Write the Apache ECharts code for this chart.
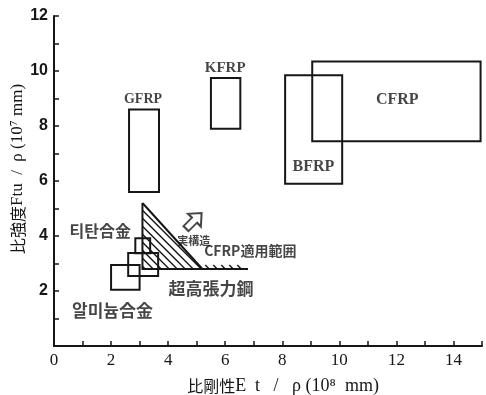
<!DOCTYPE html>
<html><head><meta charset="utf-8">
<script src="https://cdn.jsdelivr.net/npm/echarts@6/dist/echarts.min.js"></script>
<style>html,body{margin:0;padding:0;background:#fff}#c{width:486px;height:395px}</style>
</head><body><div id="c"></div>
<script>
// ---- data ----
const xTicks = [0, 2, 4, 6, 8, 10, 12, 14];
const yTicks = [2, 4, 6, 8, 10, 12];
// material regions (specific stiffness range x, specific strength range y)
const boxNames = ['GFRP', 'KFRP', 'BFRP', 'CFRP', 'Ti-a', 'Ti-b', 'Al'];
const boxXmin = [2.63, 5.5, 8.1, 9.05, 2.85, 2.6, 2.0];
const boxXmax = [3.68, 6.53, 10.1, 14.95, 3.37, 3.65, 3.0];
const boxYmin = [5.6, 7.9, 5.9, 7.45, 3.37, 2.55, 2.05];
const boxYmax = [8.6, 9.75, 9.85, 10.35, 3.92, 3.38, 2.95];
// hatched applicable CFRP region (vertex x, y) and base-line end
const hatchX = [3.1, 3.1, 5.2];
const hatchY = [5.2, 2.8, 2.8];
const baseEndX = 6.8;
// annotations
const annText = ['GFRP', 'KFRP', 'CFRP', 'BFRP', '티탄合金', '알미늄合金', '実構造', 'CFRP適用範囲', '超高張力鋼'];
const annX = [3.12, 6.0, 12.03, 9.09, 1.62, 2.05, 4.9, 6.88, 5.5];
const annY = [8.98, 10.1, 8.95, 6.5, 4.2, 1.3, 3.82, 3.45, 2.1];
const arrowX = [4.9];
const arrowY = [4.55];

const annStyle = {
  'GFRP': {fontFamily: 'Liberation Serif', fontWeight: 'bold', fontSize: 14},
  'KFRP': {fontFamily: 'Liberation Serif', fontWeight: 'bold', fontSize: 15},
  'CFRP': {fontFamily: 'Liberation Serif', fontWeight: 'bold', fontSize: 16},
  'BFRP': {fontFamily: 'Liberation Serif', fontWeight: 'bold', fontSize: 16},
  '티탄合金': {fontFamily: 'Noto Sans CJK KR', fontWeight: 'bold', fontSize: 16},
  '알미늄合金': {fontFamily: 'Noto Sans CJK KR', fontWeight: 'bold', fontSize: 17},
  '実構造': {fontFamily: 'Noto Sans CJK JP', fontWeight: 'bold', fontSize: 11},
  'CFRP適用範囲': {fontFamily: 'Noto Sans CJK JP', fontWeight: 'bold', fontSize: 14},
  '超高張力鋼': {fontFamily: 'Noto Sans CJK JP', fontWeight: 'bold', fontSize: 17}
};

const INK = '#161616';
const chart = echarts.init(document.getElementById('c'), null, {renderer: 'canvas'});

function clipLines(poly, step) {
  // hatch lines of screen direction (1,1) clipped to polygon
  const cs = poly.map(p => p[1] - p[0]);
  const cmin = Math.min(...cs), cmax = Math.max(...cs);
  const out = [];
  for (let c = cmin + step * 0.6; c < cmax; c += step) {
    const xs = [];
    for (let i = 0; i < poly.length; i++) {
      const P = poly[i], Q = poly[(i + 1) % poly.length];
      const fp = P[1] - P[0] - c, fq = Q[1] - Q[0] - c;
      if ((fp < 0 && fq >= 0) || (fp >= 0 && fq < 0)) {
        const t = fp / (fp - fq);
        xs.push(P[0] + t * (Q[0] - P[0]));
      }
    }
    xs.sort((a, b) => a - b);
    for (let k = 0; k + 1 < xs.length; k += 2) {
      out.push([[xs[k], xs[k] + c], [xs[k + 1], xs[k + 1] + c]]);
    }
  }
  return out;
}

const boxData = boxNames.map((n, i) => ({name: n, value: [boxXmin[i], boxXmax[i], boxYmin[i], boxYmax[i]]}));

const option = {
  animation: false,
  backgroundColor: '#fff',
  grid: {left: 54, right: 4, top: 16, bottom: 49, containLabel: false, outerBoundsMode: 'none'},
  xAxis: {
    type: 'value', min: 0, max: 15, interval: 1,
    axisLine: {lineStyle: {color: INK, width: 2}},
    axisTick: {inside: true, length: 5, lineStyle: {color: INK, width: 1.5}},
    splitLine: {show: false},
    axisLabel: {
      margin: 6, color: INK, fontFamily: 'Liberation Serif', fontSize: 17,
      formatter: v => (xTicks.indexOf(v) >= 0 ? String(v) : '')
    },
    name: '{c|比剛性}{l|E  t   /   ρ (10⁸  mm)}', nameLocation: 'middle', nameGap: 31,
    nameMoveOverlap: false,
    nameTextStyle: {
      color: INK, padding: [0, 0, 0, 30],
      rich: {
        c: {fontFamily: 'Noto Sans CJK JP', fontSize: 16, color: INK},
        l: {fontFamily: 'Liberation Serif', fontSize: 18, color: INK}
      }
    }
  },
  yAxis: {
    type: 'value', min: 0, max: 12, interval: 1,
    axisLine: {lineStyle: {color: INK, width: 2}},
    axisTick: {inside: true, length: 5, lineStyle: {color: INK, width: 1.5}},
    splitLine: {show: false},
    axisLabel: {
      margin: 6, color: INK, fontFamily: 'Liberation Sans', fontWeight: 'bold', fontSize: 16,
      formatter: v => (yTicks.indexOf(v) >= 0 ? String(v) : '')
    },
    name: '{c|比強度}{l|Ftu  /  ρ (10⁷ mm)}', nameLocation: 'middle', nameGap: 28,
    nameMoveOverlap: false,
    nameTextStyle: {
      color: INK, padding: [0, 0, 0, 24],
      rich: {
        c: {fontFamily: 'Noto Sans CJK JP', fontSize: 16, color: INK},
        l: {fontFamily: 'Liberation Serif', fontSize: 17, color: INK}
      }
    }
  },
  series: [
    {
      type: 'custom', name: 'boxes', data: boxData, silent: true,
      renderItem(params, api) {
        const a = api.coord([api.value(0), api.value(3)]);
        const b = api.coord([api.value(1), api.value(2)]);
        return {type: 'rect', shape: {x: a[0], y: a[1], width: b[0] - a[0], height: b[1] - a[1]},
          style: {fill: 'none', stroke: INK, lineWidth: 2}};
      }
    },
    {
      type: 'custom', name: 'hatch', data: [[0]], silent: true,
      renderItem(params, api) {
        const A = api.coord([hatchX[0], hatchY[0]]);
        const F = api.coord([hatchX[1], hatchY[1]]);
        const C = api.coord([hatchX[2], hatchY[2]]);
        const D = api.coord([baseEndX, hatchY[1]]);
        const sh = 4;
        const t = (C[1] - sh - A[1]) / (C[1] - A[1]);
        const B = [A[0] + t * (C[0] - A[0]), C[1] - sh];
        const poly = [A, B, [D[0] - 6, C[1] - sh], [D[0] - 6, D[1]], F];
        const segs = clipLines(poly, 8);
        const children = segs.map(s => ({type: 'line', shape: {x1: s[0][0], y1: s[0][1], x2: s[1][0], y2: s[1][1]},
          style: {stroke: INK, lineWidth: 1.4}}));
        children.push({type: 'polyline', shape: {points: [A, F, D]}, style: {fill: 'none', stroke: INK, lineWidth: 2}});
        children.push({type: 'line', shape: {x1: A[0], y1: A[1], x2: C[0], y2: C[1]}, style: {stroke: INK, lineWidth: 2}});
        return {type: 'group', children};
      }
    },
    {
      type: 'scatter', name: 'arrow', silent: true,
      data: arrowX.map((x, i) => [x, arrowY[i]]),
      symbol: 'path://M10,0 L20,10 L14,10 L14,22 L6,22 L6,10 L0,10 Z',
      symbolSize: [18, 22], symbolRotate: -45,
      itemStyle: {color: '#fff', borderColor: INK, borderWidth: 2}
    },
    {
      type: 'scatter', name: 'labels', silent: true, symbolSize: 0,
      data: annText.map((t, i) => ({
        name: t, value: [annX[i], annY[i]],
        label: Object.assign({show: true, position: 'inside', formatter: t, color: INK}, annStyle[t])
      }))
    }
  ]
};
chart.setOption(option);
</script></body></html>
